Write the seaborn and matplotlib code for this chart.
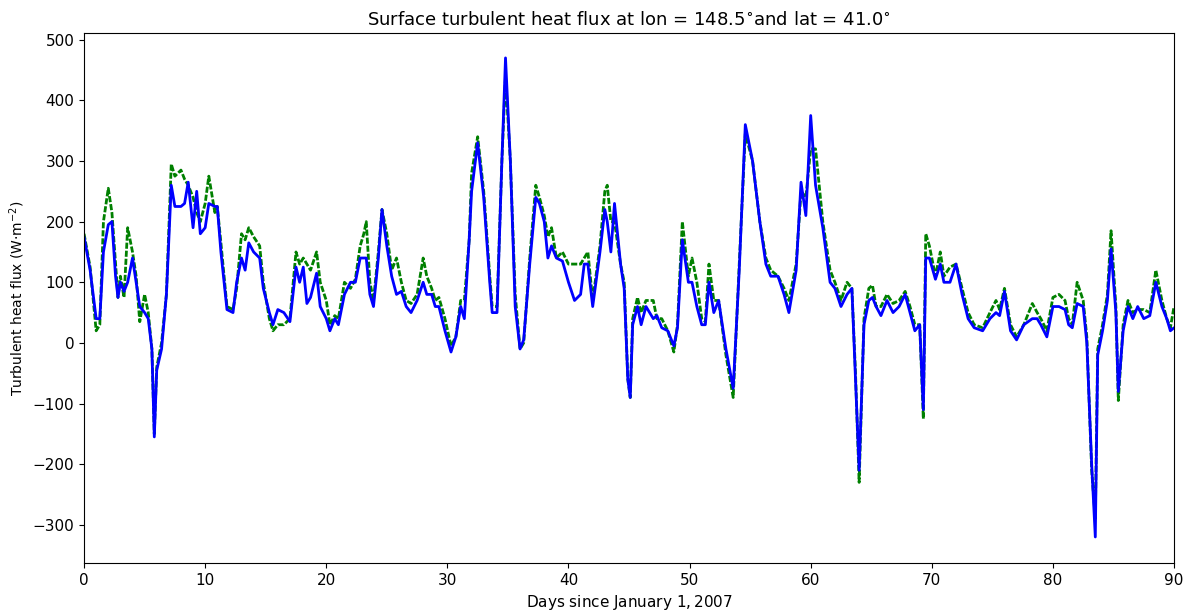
import numpy as np
import pandas as pd
import matplotlib
matplotlib.use("Agg")
import matplotlib.pyplot as plt
import seaborn as sns

# days since Jan 1 2007 (sampled where the curves turn)
days = [0, 0.5, 1, 1.3, 1.6, 2, 2.3, 2.6, 2.8, 3.0, 3.3, 3.6, 4, 4.3, 4.6, 5, 5.3, 5.6, 5.8, 6.0,
        6.4, 6.8, 7.2, 7.5, 8, 8.3, 8.6, 9, 9.3, 9.6, 10, 10.3, 10.8, 11, 11.3, 11.8, 12.3, 12.6, 13, 13.3,
        13.6, 14, 14.5, 14.8, 15.3, 15.6, 16, 16.5, 17, 17.5, 17.8, 18.1, 18.4, 18.7, 19.2, 19.5, 20, 20.3, 20.7, 21,
        21.5, 22, 22.4, 22.8, 23.1, 23.3, 23.6, 23.9, 24.3, 24.6, 25, 25.4, 25.8, 26.2, 26.6, 27, 27.5, 28, 28.3, 28.7,
        29, 29.3, 29.8, 30.3, 30.7, 31.1, 31.4, 31.8, 32.0, 32.5, 33.0, 33.5, 33.7, 34.1, 34.5, 34.8, 35.2, 35.6, 36, 36.3,
        36.8, 37.3, 37.6, 38, 38.3, 38.6, 39, 39.5, 40, 40.5, 41, 41.3, 41.6, 42, 42.6, 43, 43.2, 43.5, 43.8, 44.3,
        44.6, 44.9, 45.1, 45.3, 45.7, 46, 46.4, 47, 47.3, 47.7, 48.2, 48.7, 49, 49.4, 49.9, 50.2, 50.6, 51, 51.3, 51.6,
        52, 52.4, 53, 53.6, 54.1, 54.6, 55.2, 55.8, 56.3, 56.7, 57.3, 57.8, 58.2, 58.8, 59.2, 59.6, 60.0, 60.4, 61, 61.6,
        62, 62.5, 63, 63.4, 63.7, 64.0, 64.4, 64.8, 65.1, 65.4, 65.8, 66.3, 66.8, 67.3, 67.8, 68.2, 68.6, 69.0, 69.3, 69.5,
        69.8, 70.3, 70.7, 71.0, 71.5, 72, 72.5, 73, 73.5, 74.2, 74.8, 75.3, 75.6, 76, 76.5, 77, 77.6, 78.3, 78.7, 79,
        79.5, 80.0, 80.5, 81, 81.3, 81.6, 82, 82.5, 82.8, 83.2, 83.5, 83.7, 84.1, 84.5, 84.8, 85.2, 85.4, 85.8, 86.2, 86.6,
        87.0, 87.5, 88, 88.5, 89, 89.4, 89.7, 90]

flux_blue = [175, 120, 40, 40, 150, 195, 200, 110, 75, 100, 85, 100, 140, 100, 60, 50, 40, -10, -155, -45,
             -10, 80, 260, 225, 225, 230, 265, 190, 250, 180, 190, 230, 225, 225, 150, 55, 50, 100, 140, 120,
             165, 150, 140, 90, 50, 30, 55, 50, 35, 125, 100, 125, 65, 75, 115, 60, 40, 20, 40, 30,
             80, 100, 100, 140, 140, 140, 80, 60, 140, 220, 160, 110, 80, 85, 60, 50, 70, 100, 80, 80,
             60, 60, 20, -15, 10, 60, 40, 170, 250, 330, 240, 100, 50, 50, 300, 470, 300, 60, -10, 5,
             130, 240, 230, 200, 140, 160, 140, 135, 100, 70, 80, 130, 130, 60, 150, 220, 200, 150, 230, 130,
             90, -60, -90, 30, 60, 30, 60, 40, 45, 25, 20, -5, 25, 170, 100, 100, 60, 30, 30, 100,
             50, 70, -10, -75, 120, 360, 300, 200, 130, 110, 110, 80, 50, 120, 265, 210, 375, 260, 190, 100,
             90, 60, 80, 90, -60, -210, 30, 70, 75, 60, 45, 70, 50, 60, 80, 50, 20, 30, -110, 140,
             140, 105, 130, 100, 100, 130, 80, 40, 25, 20, 40, 50, 45, 85, 20, 5, 30, 40, 40, 30,
             10, 60, 60, 55, 30, 25, 65, 60, 0, -200, -320, -20, 20, 70, 155, 50, -80, 20, 60, 40,
             60, 40, 45, 100, 60, 40, 20, 25]

flux_green = [180, 125, 20, 30, 200, 255, 215, 130, 75, 110, 75, 190, 150, 110, 35, 80, 50, -10, -150, -40,
              0, 80, 295, 275, 285, 270, 260, 240, 215, 200, 230, 275, 215, 225, 165, 60, 55, 90, 180, 170,
              190, 175, 160, 100, 40, 20, 30, 30, 40, 150, 130, 140, 130, 120, 150, 100, 70, 30, 45, 40,
              100, 90, 105, 160, 180, 200, 100, 70, 150, 220, 180, 120, 140, 100, 70, 65, 80, 140, 110, 90,
              70, 75, 40, -5, 10, 70, 70, 170, 280, 340, 250, 110, 60, 60, 300, 440, 300, 80, -10, 0,
              140, 260, 240, 210, 175, 190, 140, 150, 130, 130, 130, 140, 150, 70, 160, 250, 260, 200, 200, 130,
              100, -60, -90, 40, 75, 50, 70, 70, 40, 40, 20, -15, 30, 200, 110, 140, 100, 40, 35, 130,
              70, 70, -20, -90, 130, 345, 300, 200, 140, 120, 110, 90, 70, 130, 250, 240, 320, 320, 200, 120,
              100, 70, 100, 90, -50, -230, 40, 90, 95, 60, 60, 80, 65, 70, 85, 60, 30, 30, -125, 180,
              160, 110, 150, 110, 125, 130, 90, 50, 30, 25, 50, 70, 55, 90, 30, 10, 30, 65, 50, 40,
              20, 75, 80, 70, 40, 30, 100, 70, 10, -210, -290, -10, 30, 80, 185, 60, -95, 30, 70, 50,
              55, 55, 50, 120, 70, 40, 25, 60]

df = pd.DataFrame({"day": days, "blue": flux_blue, "green": flux_green})

sns.set_style("ticks", {"axes.edgecolor": "black", "text.color": "black",
                        "xtick.color": "black", "ytick.color": "black",
                        "axes.labelcolor": "black"})
plt.rcParams["font.family"] = ["DejaVu Sans"]

fig = plt.figure(figsize=(11.89, 6.12), dpi=100)
ax = fig.add_axes([0.0707, 0.080, 0.9167, 0.866])

sns.lineplot(data=df, x="day", y="green", ax=ax, color="green", linewidth=2.0, sort=False)
ax.lines[-1].set_dashes([2.2, 0.7])
sns.lineplot(data=df, x="day", y="blue", ax=ax, color="blue", linewidth=2.0, sort=False)

ax.set_xlim(0, 90)
ax.set_ylim(-363, 511)
ax.set_xticks(np.arange(0, 91, 10))
ax.set_yticks(np.arange(-300, 501, 100))
ax.tick_params(labelsize=11)
ax.set_title(r"Surface turbulent heat flux at lon = 148.5$^{\mathbf{\circ}}$and lat = 41.0$^{\mathbf{\circ}}$",
             fontsize=13)
ax.set_xlabel(r"Days since January $1, 2007$", fontsize=11)
ax.set_ylabel(r"Turbulent heat flux (W$\cdot$m$^{-2}$)", fontsize=10)

fig.savefig("out.png", dpi=100)
